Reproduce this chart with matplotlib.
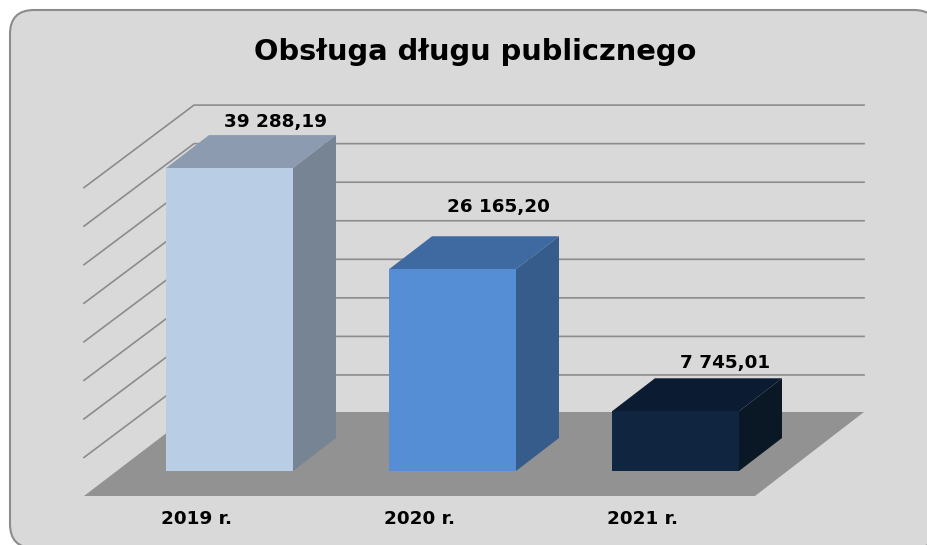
# -*- coding: utf-8 -*-
#3D-style column chart, drawn with plain matplotlib patches
import matplotlib
matplotlib.use('Agg')
import matplotlib.pyplot as plt
from matplotlib.patches import FancyBboxPatch, Polygon
from matplotlib.transforms import IdentityTransform

# data
years = ['2019 r.', '2020 r.', '2021 r.']
values = [39288.19, 26165.20, 7745.01]
value_labels = ['39 288,19', '26 165,20', '7 745,01']
grid_levels = [5000, 10000, 15000, 20000, 25000, 30000, 35000, 40000]

# colours per bar (front, top, side)
front_cols = ['#b9cde5', '#558ed5', '#10253f']
top_cols = ['#8c9bb0', '#3f6aa1', '#0b1b31']
side_cols = ['#778494', '#365c8c', '#0a1725']

W, H = 927, 545
PX_X = 223.0       # pixels per category
PX_Y = 0.00771     # pixels per unit of value
X0 = 229.5         # pixel of first category
Y0 = 471.0         # pixel of value 0

fig = plt.figure(figsize=(W / 100, H / 100), dpi=100, facecolor='white')

#rounded frame runs off the right and bottom of the picture
frame = FancyBboxPatch((10, -3), 928, 538, boxstyle='round,pad=0,rounding_size=24',
                       transform=IdentityTransform(), fc='#d9d9d9', ec='#8c8c8c', lw=1.5, zorder=-1)
fig.add_artist(frame)

ax = fig.add_axes([0, 0, 1, 1])
ax.patch.set_alpha(0)
ax.set_xlim(-X0 / PX_X, (W - X0) / PX_X)
ax.set_ylim(-(H - Y0) / PX_Y, Y0 / PX_Y)
ax.axis('off')

# offsets in data units
def dx(px):
    return px / PX_X

def dy(px):
    return px / PX_Y

# floor and walls
front_x = dx(84 - X0)
right_x = dx(755 - X0)
floor_y = dy(471 - 496)
back_dx = dx(110)
back_dy = dy(84)
line_dy = dy(82.5)
wall_col = '#8c8c8c'

for lev in grid_levels:
    ax.plot([front_x, front_x + back_dx, dx(864 - X0)],
            [floor_y + lev, floor_y + lev + line_dy, floor_y + lev + line_dy],
            color=wall_col, lw=1.2, zorder=1, solid_joinstyle='miter')

floor = Polygon([(front_x, floor_y), (right_x, floor_y),
                 (dx(864 - X0), floor_y + back_dy), (front_x + back_dx, floor_y + back_dy)],
                closed=True, fc='#929292', ec='none', zorder=2)
ax.add_patch(floor)

# bars
bar_w = 127 / PX_X
depth_x = dx(43)
depth_y = dy(33)
bars = ax.bar(range(len(values)), values, width=bar_w, color=front_cols, zorder=4)
for i, b in enumerate(bars):
    l = b.get_x()
    r = l + b.get_width()
    t = b.get_height()
    ax.add_patch(Polygon([(l, t), (r, t), (r + depth_x, t + depth_y), (l + depth_x, t + depth_y)],
                         closed=True, fc=top_cols[i], ec='none', zorder=3))
    ax.add_patch(Polygon([(r, 0), (r + depth_x, depth_y), (r + depth_x, t + depth_y), (r, t)],
                         closed=True, fc=side_cols[i], ec='none', zorder=3))

# text
label_nudge = [(46, 13), (46, 29), (50, 15)]
for i, v in enumerate(values):
    ax.text(i + dx(label_nudge[i][0]), v + depth_y + dy(label_nudge[i][1]), value_labels[i],
            ha='center', va='center', fontsize=13.2, fontweight='bold',
            family='DejaVu Sans', color='black', zorder=5)
    ax.text(i + dx(-33), dy(471 - 519), years[i], ha='center', va='center',
            fontsize=13.2, fontweight='bold', family='DejaVu Sans', color='black', zorder=5)

ax.text(dx(475 - X0), dy(471 - 52), 'Obsługa długu publicznego', ha='center', va='center',
        fontsize=20.8, fontweight='bold', family='DejaVu Sans', color='black', zorder=5)

fig.savefig('out.png', dpi=100)
